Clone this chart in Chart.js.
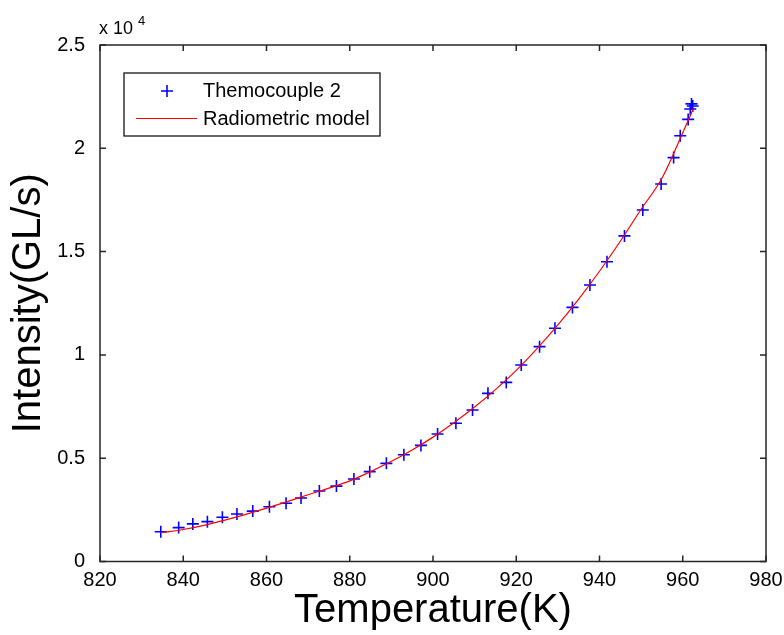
<!DOCTYPE html>
<html>
<head>
<meta charset="utf-8">
<script src="https://cdn.jsdelivr.net/npm/chart.js@4/dist/chart.umd.min.js"></script>
<style>
    html, body { margin: 0; padding: 0; background: #fff; }
    #wrap { width: 784px; height: 635px; }
</style>
</head>
<body>
<div id="wrap"><canvas id="intensityChart" width="784" height="635"></canvas></div>
<script>
// values
const thermoTemps = [834.6, 838.9, 842.3, 845.8, 849.4, 852.9, 856.7, 860.7, 864.7, 868.3,
    872.7, 876.8, 881.0, 884.8, 888.8, 893.0, 897.1, 901.1, 905.5, 909.5,
    913.2, 917.6, 921.2, 925.6, 929.3, 933.5, 937.7, 941.8, 946.0, 950.4,
    954.8, 957.8, 959.4, 961.3, 961.8, 962.1, 962.4];
const thermoIntensity = [1440, 1640, 1820, 1930, 2140, 2300, 2440, 2650, 2820, 3070,
    3410, 3650, 3990, 4350, 4750, 5170, 5620, 6170, 6690, 7330,
    8140, 8670, 9510, 10400, 11290, 12300, 13380, 14510, 15760, 17010,
    18270, 19550, 20610, 21400, 21900, 22150, 22050];

const modelTemps = [835, 840, 845, 850, 855, 860, 865, 870, 875, 880, 885, 890, 895, 900,
    905, 910, 915, 920, 925, 930, 935, 940, 945, 950, 955, 960, 962.5];
const modelIntensity = [1400, 1550, 1750, 2000, 2280, 2580, 2900, 3230, 3550, 3900, 4350, 4850, 5400, 6020,
    6720, 7480, 8320, 9250, 10300, 11450, 12700, 14050, 15500, 17050, 18550, 20750, 21900];

const xTicks = [820, 840, 860, 880, 900, 920, 940, 960, 980];
const yTicks = [0, 5000, 10000, 15000, 20000, 25000];
const yTickLabels = ['0', '0.5', '1', '1.5', '2', '2.5'];

const seriesLabels = ['Themocouple 2', 'Radiometric model'];
const FONT = 'Arial, "Liberation Sans", sans-serif';

function toPoints(xs, ys) {
    return xs.map((x, i) => ({ x: x, y: ys[i] }));
}

// box, inward ticks, exponent note and legend (MATLAB look)
const matlabFrame = {
    id: 'matlabFrame',
    afterDraw(chart) {
        const { ctx, chartArea: a, scales } = chart;
        ctx.save();
        ctx.strokeStyle = '#262626';
        ctx.lineWidth = 1.5;
        ctx.strokeRect(a.left, a.top, a.right - a.left, a.bottom - a.top);

        const tl = 6;
        ctx.beginPath();
        xTicks.forEach(v => {
            const px = scales.x.getPixelForValue(v);
            ctx.moveTo(px, a.bottom); ctx.lineTo(px, a.bottom - tl);
            ctx.moveTo(px, a.top); ctx.lineTo(px, a.top + tl);
        });
        yTicks.forEach(v => {
            const py = scales.y.getPixelForValue(v);
            ctx.moveTo(a.left, py); ctx.lineTo(a.left + tl, py);
            ctx.moveTo(a.right, py); ctx.lineTo(a.right - tl, py);
        });
        ctx.stroke();

        // x 10^4
        ctx.fillStyle = '#000';
        ctx.textBaseline = 'alphabetic';
        ctx.textAlign = 'left';
        ctx.font = '18px ' + FONT;
        ctx.fillText('x 10', a.left - 1, 34);
        ctx.font = '13px ' + FONT;
        ctx.fillText('4', a.left + 38, 25);

        // legend
        const lx = 124, ly = 73, lw = 256, lh = 63;
        ctx.fillStyle = '#fff';
        ctx.fillRect(lx, ly, lw, lh);
        ctx.strokeStyle = '#000';
        ctx.lineWidth = 1.2;
        ctx.strokeRect(lx, ly, lw, lh);

        const ds0 = chart.data.datasets[0];
        const ds1 = chart.data.datasets[1];
        ctx.strokeStyle = ds0.borderColor;
        ctx.lineWidth = ds0.borderWidth;
        ctx.beginPath();
        ctx.moveTo(161, 91); ctx.lineTo(173, 91);
        ctx.moveTo(167, 85); ctx.lineTo(167, 97);
        ctx.stroke();

        ctx.strokeStyle = ds1.borderColor;
        ctx.lineWidth = 1;
        ctx.beginPath();
        ctx.moveTo(136, 118.5); ctx.lineTo(197, 118.5);
        ctx.stroke();

        ctx.fillStyle = '#000';
        ctx.font = '20px ' + FONT;
        ctx.textBaseline = 'middle';
        ctx.fillText(ds0.label, 203, 91);
        ctx.fillText(ds1.label, 203, 119);
        ctx.restore();
    }
};

const chart = new Chart(document.getElementById('intensityChart').getContext('2d'), {
    type: 'scatter',
    data: {
        datasets: [{
            label: seriesLabels[0],
            data: toPoints(thermoTemps, thermoIntensity),
            pointStyle: 'cross',
            pointRadius: 6,
            pointHoverRadius: 6,
            borderColor: '#0000ff',
            backgroundColor: '#0000ff',
            borderWidth: 1.6,
            showLine: false,
            order: 1
        }, {
            label: seriesLabels[1],
            data: toPoints(modelTemps, modelIntensity),
            showLine: true,
            borderColor: '#ff0000',
            borderWidth: 1.2,
            pointRadius: 0,
            cubicInterpolationMode: 'monotone',
            order: 0
        }]
    },
    options: {
        responsive: false,
        animation: false,
        layout: { padding: { left: 0, top: 45, right: 18, bottom: 0 } },
        plugins: {
            legend: { display: false },
            tooltip: { enabled: false }
        },
        scales: {
            x: {
                type: 'linear',
                min: 820,
                max: 980,
                afterBuildTicks: s => { s.ticks = xTicks.map(v => ({ value: v })); },
                afterFit: s => { s.height = 73.5; },
                grid: { display: false },
                border: { display: false },
                ticks: {
                    autoSkip: false,
                    maxRotation: 0,
                    padding: -1,
                    color: '#000',
                    font: { family: FONT, size: 20 }
                },
                title: {
                    display: true,
                    text: 'Temperature(K)',
                    color: '#000',
                    padding: { top: 0, bottom: 0 },
                    font: { family: FONT, size: 40, lineHeight: 1.2 }
                }
            },
            y: {
                type: 'linear',
                min: 0,
                max: 25000,
                afterBuildTicks: s => { s.ticks = yTicks.map(v => ({ value: v })); },
                afterFit: s => { s.width = 100; },
                grid: { display: false },
                border: { display: false },
                ticks: {
                    padding: 7,
                    color: '#000',
                    font: { family: FONT, size: 20 },
                    callback: (v, i) => yTickLabels[i]
                },
                title: {
                    display: true,
                    text: 'Intensity(GL/s)',
                    color: '#000',
                    padding: { top: 5, bottom: 0 },
                    font: { family: FONT, size: 40, lineHeight: 1.2 }
                }
            }
        }
    },
    plugins: [matlabFrame]
});
</script>
</body>
</html>
